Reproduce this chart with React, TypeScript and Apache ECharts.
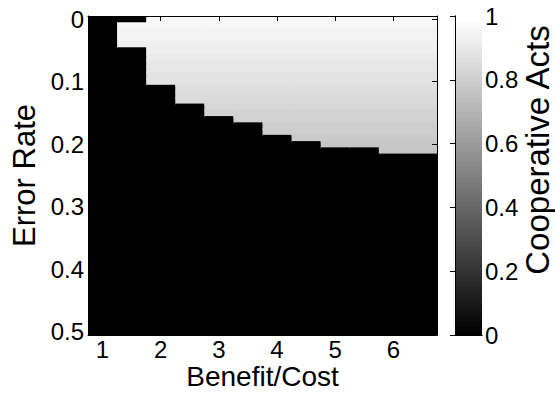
import React, { useEffect, useRef } from "react";
import * as echarts from "echarts";

const benefitCost = ["1", "1.5", "2", "2.5", "3", "3.5", "4", "4.5", "5", "5.5", "6", "6.5"];
const errorRates = [
  "0", "0.01", "0.02", "0.03", "0.04", "0.05", "0.06", "0.07", "0.08", "0.09",
  "0.1", "0.11", "0.12", "0.13", "0.14", "0.15", "0.16", "0.17", "0.18", "0.19",
  "0.2", "0.21", "0.22", "0.23", "0.24", "0.25", "0.26", "0.27", "0.28", "0.29",
  "0.3", "0.31", "0.32", "0.33", "0.34", "0.35", "0.36", "0.37", "0.38", "0.39",
  "0.4", "0.41", "0.42", "0.43", "0.44", "0.45", "0.46", "0.47", "0.48", "0.49",
  "0.5",
];
// first and last error-rate row (index) where cooperation survives, per benefit/cost column
const coopFirstRow = [-1, 1, 0, 0, 0, 0, 0, 0, 0, 0, 0, 0];
const coopLastRow = [-1, 4, 10, 13, 15, 16, 18, 19, 20, 20, 21, 21];
// cooperative acts level per error-rate row (where cooperation survives)
const coopLevel = [
  0.965, 0.955, 0.95, 0.94, 0.935, 0.925, 0.915, 0.905, 0.895, 0.885,
  0.878, 0.868, 0.858, 0.848, 0.838, 0.828, 0.818, 0.808, 0.798, 0.788,
  0.778, 0.77,
];
const colorbarTicks = [0, 0.2, 0.4, 0.6, 0.8, 1];
const colormapSize = 64;

const FONT = "Liberation Sans, Arial, Helvetica, sans-serif";

function grayOf(v: number) {
  const idx = Math.max(0, Math.min(colormapSize - 1, Math.floor(v * colormapSize)));
  const g = Math.round((255 * idx) / (colormapSize - 1));
  return `rgb(${g},${g},${g})`;
}

export default function App() {
  const ref = useRef<HTMLDivElement>(null);
  useEffect(() => {
    if (!ref.current) return;
    const chart = echarts.init(ref.current, undefined, { renderer: "svg" });

    const heat: number[][] = [];
    benefitCost.forEach((_, c) => {
      errorRates.forEach((__, r) => {
        const f = coopFirstRow[c];
        const l = coopLastRow[c];
        const v = f >= 0 && r >= f && r <= l ? coopLevel[r] : 0;
        heat.push([c, r, v]);
      });
    });

    const cmap: number[][] = [];
    for (let i = 0; i < colormapSize; i++) cmap.push([i]);

    const lineStyle = { color: "#000", width: 1 };
    const tickStyle = { show: true, inside: true, length: 5, lineStyle };
    const catLabelInterval = (step: number) => (idx: number) => idx % step === 0;

    const clampRect = (x0: number, y0: number, x1: number, y1: number, cs: any) => {
      const right = cs.x + cs.width;
      const bottom = cs.y + cs.height;
      const ex = Math.min(x1 + 1.5, right);
      const ey = Math.min(y1 + 1.5, bottom);
      return { x: x0, y: y0, width: ex - x0, height: ey - y0 };
    };

    chart.setOption({
      animation: false,
      backgroundColor: "#fff",
      textStyle: { fontFamily: FONT },
      grid: [
        { left: 88, top: 16, width: 349, height: 319, containLabel: false, outerBoundsMode: "none" },
        { left: 455, top: 16, width: 27, height: 319, containLabel: false, outerBoundsMode: "none" },
      ],
      graphic: [
        {
          type: "text",
          x: 537,
          y: 150,
          rotation: Math.PI / 2,
          style: {
            text: "Cooperative Acts",
            fontSize: 33,
            fontFamily: FONT,
            fill: "#000",
            align: "center",
            verticalAlign: "middle",
          },
        },
      ],
      xAxis: [
        {
          type: "category",
          gridIndex: 0,
          data: benefitCost,
          position: "bottom",
          axisLine: { show: true, lineStyle },
          axisTick: { ...tickStyle, alignWithLabel: true, interval: catLabelInterval(2) },
          axisLabel: {
            interval: catLabelInterval(2),
            color: "#000",
            fontSize: 24,
            fontFamily: FONT,
            margin: 2,
          },
          splitLine: { show: false },
          name: "Benefit/Cost",
          nameLocation: "middle",
          nameGap: 27,
          nameMoveOverlap: false,
          nameTextStyle: { color: "#000", fontSize: 28, fontFamily: FONT, lineHeight: 28 },
          z: 10,
        },
        {
          type: "category",
          gridIndex: 0,
          data: benefitCost,
          position: "top",
          axisLine: { show: true, lineStyle },
          axisTick: { ...tickStyle, alignWithLabel: true, interval: catLabelInterval(2) },
          axisLabel: { show: false },
          splitLine: { show: false },
          z: 10,
        },
        {
          type: "value",
          gridIndex: 1,
          min: 0,
          max: 1,
          position: "bottom",
          axisLine: { show: true, lineStyle },
          axisTick: { show: false },
          axisLabel: { show: false },
          splitLine: { show: false },
          z: 10,
        },
        {
          type: "value",
          gridIndex: 1,
          min: 0,
          max: 1,
          position: "top",
          axisLine: { show: true, lineStyle },
          axisTick: { show: false },
          axisLabel: { show: false },
          splitLine: { show: false },
          z: 10,
        },
      ],
      yAxis: [
        {
          type: "category",
          gridIndex: 0,
          data: errorRates,
          inverse: true,
          position: "left",
          axisLine: { show: true, lineStyle },
          axisTick: { ...tickStyle, alignWithLabel: true, interval: catLabelInterval(10) },
          axisLabel: {
            interval: catLabelInterval(10),
            color: "#000",
            fontSize: 24,
            fontFamily: FONT,
            margin: 4,
          },
          splitLine: { show: false },
          name: "Error Rate",
          nameLocation: "middle",
          nameGap: 48,
          nameMoveOverlap: false,
          nameRotate: 90,
          nameTextStyle: { color: "#000", fontSize: 31, fontFamily: FONT, lineHeight: 31 },
          z: 10,
        },
        {
          type: "category",
          gridIndex: 0,
          data: errorRates,
          inverse: true,
          position: "right",
          axisLine: { show: true, lineStyle },
          axisTick: { ...tickStyle, alignWithLabel: true, interval: catLabelInterval(10) },
          axisLabel: { show: false },
          splitLine: { show: false },
          z: 10,
        },
        {
          type: "value",
          gridIndex: 1,
          min: 0,
          max: 1,
          interval: 0.2,
          position: "right",
          axisLine: { show: true, lineStyle },
          axisTick: { ...tickStyle },
          axisLabel: {
            color: "#000",
            fontSize: 24,
            fontFamily: FONT,
            margin: 3,
            formatter: (v: number) => {
              const r = Math.round(v * 10) / 10;
              return colorbarTicks.includes(r) ? String(r) : "";
            },
          },
          splitLine: { show: false },
          z: 10,
        },
        {
          type: "value",
          gridIndex: 1,
          min: 0,
          max: 1,
          position: "left",
          axisLine: { show: true, lineStyle },
          axisTick: { show: false },
          axisLabel: { show: false },
          splitLine: { show: false },
          z: 10,
        },
      ],
      series: [
        {
          type: "custom",
          xAxisIndex: 0,
          yAxisIndex: 0,
          data: heat,
          silent: true,
          renderItem: (params: any, api: any) => {
            const c = api.value(0);
            const r = api.value(1);
            const v = api.value(2);
            const center = api.coord([c, r]);
            const size = api.size([1, 1]);
            return {
              type: "rect",
              shape: clampRect(
                center[0] - size[0] / 2,
                center[1] - size[1] / 2,
                center[0] + size[0] / 2,
                center[1] + size[1] / 2,
                params.coordSys
              ),
              style: { fill: grayOf(v) },
            };
          },
        },
        {
          type: "custom",
          xAxisIndex: 2,
          yAxisIndex: 2,
          data: cmap,
          silent: true,
          renderItem: (params: any, api: any) => {
            const i = api.value(0);
            const p0 = api.coord([0, (i + 1) / colormapSize]);
            const p1 = api.coord([1, i / colormapSize]);
            const g = Math.round((255 * i) / (colormapSize - 1));
            return {
              type: "rect",
              shape: clampRect(p0[0], p0[1], p1[0], p1[1], params.coordSys),
              style: { fill: `rgb(${g},${g},${g})` },
            };
          },
        },
      ],
    });
    return () => chart.dispose();
  }, []);
  return <div ref={ref} style={{ width: 555, height: 393, position: "absolute", left: 0, top: 0 }} />;
}
